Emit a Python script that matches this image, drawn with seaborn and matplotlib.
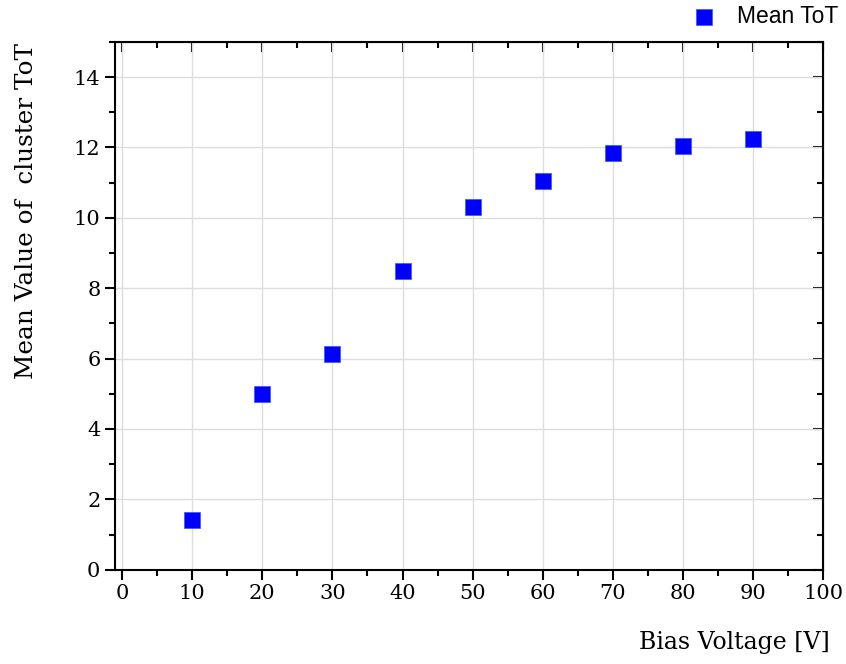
import matplotlib
matplotlib.use("Agg")
import matplotlib.pyplot as plt
from matplotlib import font_manager
from matplotlib.ticker import MultipleLocator
import pandas as pd
import seaborn as sns

# data
bias_voltage = [10, 20, 30, 40, 50, 60, 70, 80, 90]
mean_tot = [1.42, 5.0, 6.12, 8.5, 10.3, 11.05, 11.83, 12.05, 12.23]

def legend_font(size):
    # regular Liberation Sans (Arial lookalike), fall back to DejaVu Sans
    for path in font_manager.findSystemFonts():
        if path.endswith('LiberationSans-Regular.ttf'):
            return font_manager.FontProperties(fname=path, size=size)
    return font_manager.FontProperties(family='DejaVu Sans', size=size)

def main():
    sns.set_style("white")
    plt.rcParams['font.family'] = ['DejaVu Serif']
    plt.rcParams['text.color'] = 'black'
    plt.rcParams['axes.labelcolor'] = 'black'
    plt.rcParams['xtick.color'] = 'black'
    plt.rcParams['ytick.color'] = 'black'

    df = pd.DataFrame({'Bias Voltage [V]': bias_voltage, 'Mean ToT': mean_tot})

    fig = plt.figure(figsize=(8.46, 6.64), dpi=100)
    ax = fig.add_axes([0.136, 0.142, 0.837, 0.795])

    sns.scatterplot(data=df, x='Bias Voltage [V]', y='Mean ToT', marker='s', s=118,
                    color='#0000ff', edgecolor='#3355ff', linewidth=0.5,
                    label='Mean ToT', ax=ax, zorder=3)

    ax.set_xlim(-1, 100)
    ax.set_ylim(0, 15)
    ax.xaxis.set_major_locator(MultipleLocator(10))
    ax.xaxis.set_minor_locator(MultipleLocator(5))
    ax.yaxis.set_major_locator(MultipleLocator(2))
    ax.yaxis.set_minor_locator(MultipleLocator(1))
    ax.set_yticks(range(0, 15, 2))
    ax.grid(True, which='major', color='#dddddd', linewidth=1)

    for sp in ax.spines.values():
        sp.set_linewidth(1.5)
        sp.set_color('black')

    ax.tick_params(which='both', direction='out', width=1.5, labelsize=15,
                   bottom=True, left=True, top=False, right=False)
    ax.tick_params(which='major', length=7)
    ax.tick_params(which='minor', length=4)

    # mirror ticks on top and right pointing inward
    ax_top = ax.secondary_xaxis('top')
    ax_top.xaxis.set_major_locator(MultipleLocator(10))
    ax_top.xaxis.set_minor_locator(MultipleLocator(5))
    ax_top.tick_params(which='both', direction='in', width=1.5, labeltop=False)
    ax_top.tick_params(which='major', length=7)
    ax_top.tick_params(which='minor', length=4)
    ax_right = ax.secondary_yaxis('right')
    ax_right.yaxis.set_major_locator(MultipleLocator(2))
    ax_right.yaxis.set_minor_locator(MultipleLocator(1))
    ax_right.tick_params(which='both', direction='in', width=1.5, labelright=False)
    ax_right.tick_params(which='major', length=7)
    ax_right.tick_params(which='minor', length=4)

    ax.set_xlabel('Bias Voltage [V]', fontsize=17, loc='right')
    ax.xaxis.set_label_coords(1.01, -0.117)
    ax.set_ylabel('Mean Value of  cluster ToT', fontsize=17.8)
    ax.yaxis.set_label_coords(-0.109, 0.679)

    ax.legend(loc='lower right', bbox_to_anchor=(1.021, 1.027), frameon=False,
              prop=legend_font(16.5), handlelength=1.2,
              handletextpad=0.84, borderaxespad=0, borderpad=0, markerscale=1.0)

    fig.savefig('out.png', dpi=100)

if __name__ == "__main__":
    main()
